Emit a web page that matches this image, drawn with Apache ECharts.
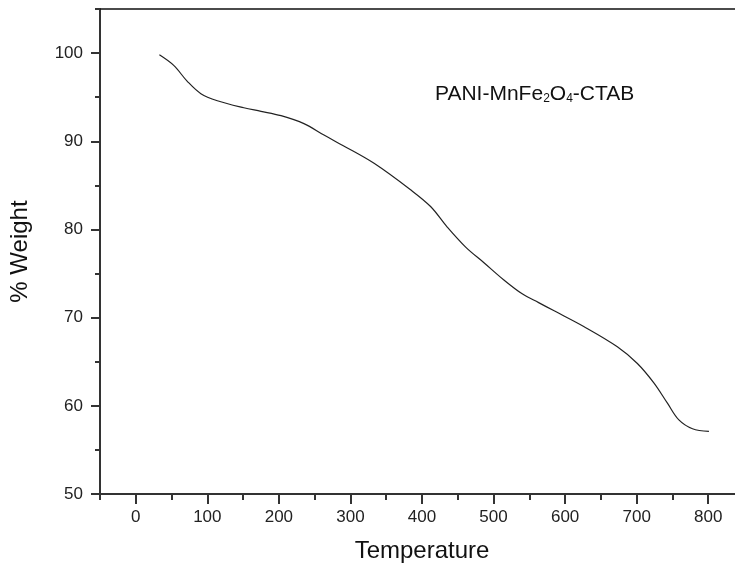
<!DOCTYPE html>
<html>
<head>
<meta charset="utf-8">
<script src="https://cdn.jsdelivr.net/npm/echarts@6/dist/echarts.min.js"></script>
<style>html,body{margin:0;padding:0;background:#fff;}#c{width:735px;height:565px;}</style>
</head>
<body>
<div id="c"></div>
<script>
// Data
const temperature = [33, 53, 72, 91, 114, 151, 175, 203, 235, 263, 290, 333, 384, 412, 435, 461, 487, 514, 540, 563, 584, 626, 673, 701, 724, 743, 759, 778, 801];
const weight = [99.8, 98.6, 96.8, 95.4, 94.6, 93.8, 93.4, 92.9, 92.0, 90.7, 89.5, 87.5, 84.5, 82.6, 80.3, 78.0, 76.2, 74.3, 72.7, 71.7, 70.8, 69.0, 66.7, 64.8, 62.6, 60.3, 58.4, 57.4, 57.1];
const xMajorTicks = [0, 100, 200, 300, 400, 500, 600, 700, 800];
const xMinorTicks = [-50, 50, 150, 250, 350, 450, 550, 650, 750, 850];
const yMajorTicks = [50, 60, 70, 80, 90, 100];
const yMinorTicks = [55, 65, 75, 85, 95, 105];

const FONT = "'Liberation Sans', Arial, sans-serif";
const AX = '#333';
const chart = echarts.init(document.getElementById('c'), null, {renderer: 'canvas'});
const seriesData = temperature.map((t, i) => [t, weight[i]]);

chart.setOption({
  animation: false,
  backgroundColor: '#fff',
  grid: {left: 100, right: -9, top: 9, bottom: 71, containLabel: false, outerBoundsMode: 'none'},
  xAxis: [
    {
      type: 'value', min: -50, max: 850, interval: 50, position: 'bottom',
      axisLine: {show: true, onZero: false, lineStyle: {color: AX, width: 2}},
      axisTick: {show: true, customValues: xMajorTicks, length: 10, lineStyle: {color: AX, width: 2}},
      axisLabel: {show: true, customValues: xMajorTicks, fontSize: 17, margin: 15, color: '#222', fontFamily: FONT},
      splitLine: {show: false},
      name: 'Temperature', nameLocation: 'middle', nameGap: 45,
      nameTextStyle: {fontSize: 24, color: '#111', fontFamily: FONT}
    },
    {
      type: 'value', min: -50, max: 850, interval: 50, position: 'bottom',
      axisLine: {show: false, onZero: false},
      axisTick: {show: true, customValues: xMinorTicks, length: 6, lineStyle: {color: AX, width: 2}},
      axisLabel: {show: false},
      splitLine: {show: false}
    },
    {
      type: 'value', min: -50, max: 850, interval: 50, position: 'top',
      axisLine: {show: true, onZero: false, lineStyle: {color: '#111', width: 1.5}},
      axisTick: {show: false}, axisLabel: {show: false}, splitLine: {show: false}
    }
  ],
  yAxis: [
    {
      type: 'value', min: 50, max: 105, interval: 5, position: 'left',
      axisLine: {show: true, onZero: false, lineStyle: {color: AX, width: 2}},
      axisTick: {show: true, customValues: yMajorTicks, length: 9, lineStyle: {color: AX, width: 2}},
      axisLabel: {show: true, customValues: yMajorTicks, fontSize: 17, margin: 17, color: '#222', fontFamily: FONT},
      splitLine: {show: false},
      name: '% Weight', nameLocation: 'middle', nameGap: 68, nameRotate: 90,
      nameTextStyle: {fontSize: 24, color: '#111', fontFamily: FONT}
    },
    {
      type: 'value', min: 50, max: 105, interval: 5, position: 'left',
      axisLine: {show: false, onZero: false},
      axisTick: {show: true, customValues: yMinorTicks, length: 5, lineStyle: {color: AX, width: 2}},
      axisLabel: {show: false},
      splitLine: {show: false}
    }
  ],
  graphic: [{
    type: 'text', left: 435, top: 84, silent: true,
    style: {
      text: '{a|PANI-MnFe}{s|2}{a|O}{s|4}{a|-CTAB}',
      rich: {
        a: {fontSize: 21, fontFamily: FONT, fill: '#111', lineHeight: 24, verticalAlign: 'bottom'},
        s: {fontSize: 12, fontFamily: FONT, fill: '#111', lineHeight: 22, verticalAlign: 'bottom'}
      }
    }
  }],
  series: [{
    type: 'line', xAxisIndex: 0, yAxisIndex: 0, data: seriesData,
    smooth: 0.35, showSymbol: false, symbol: 'none',
    lineStyle: {color: '#222', width: 1.2}
  }]
});
</script>
</body>
</html>
